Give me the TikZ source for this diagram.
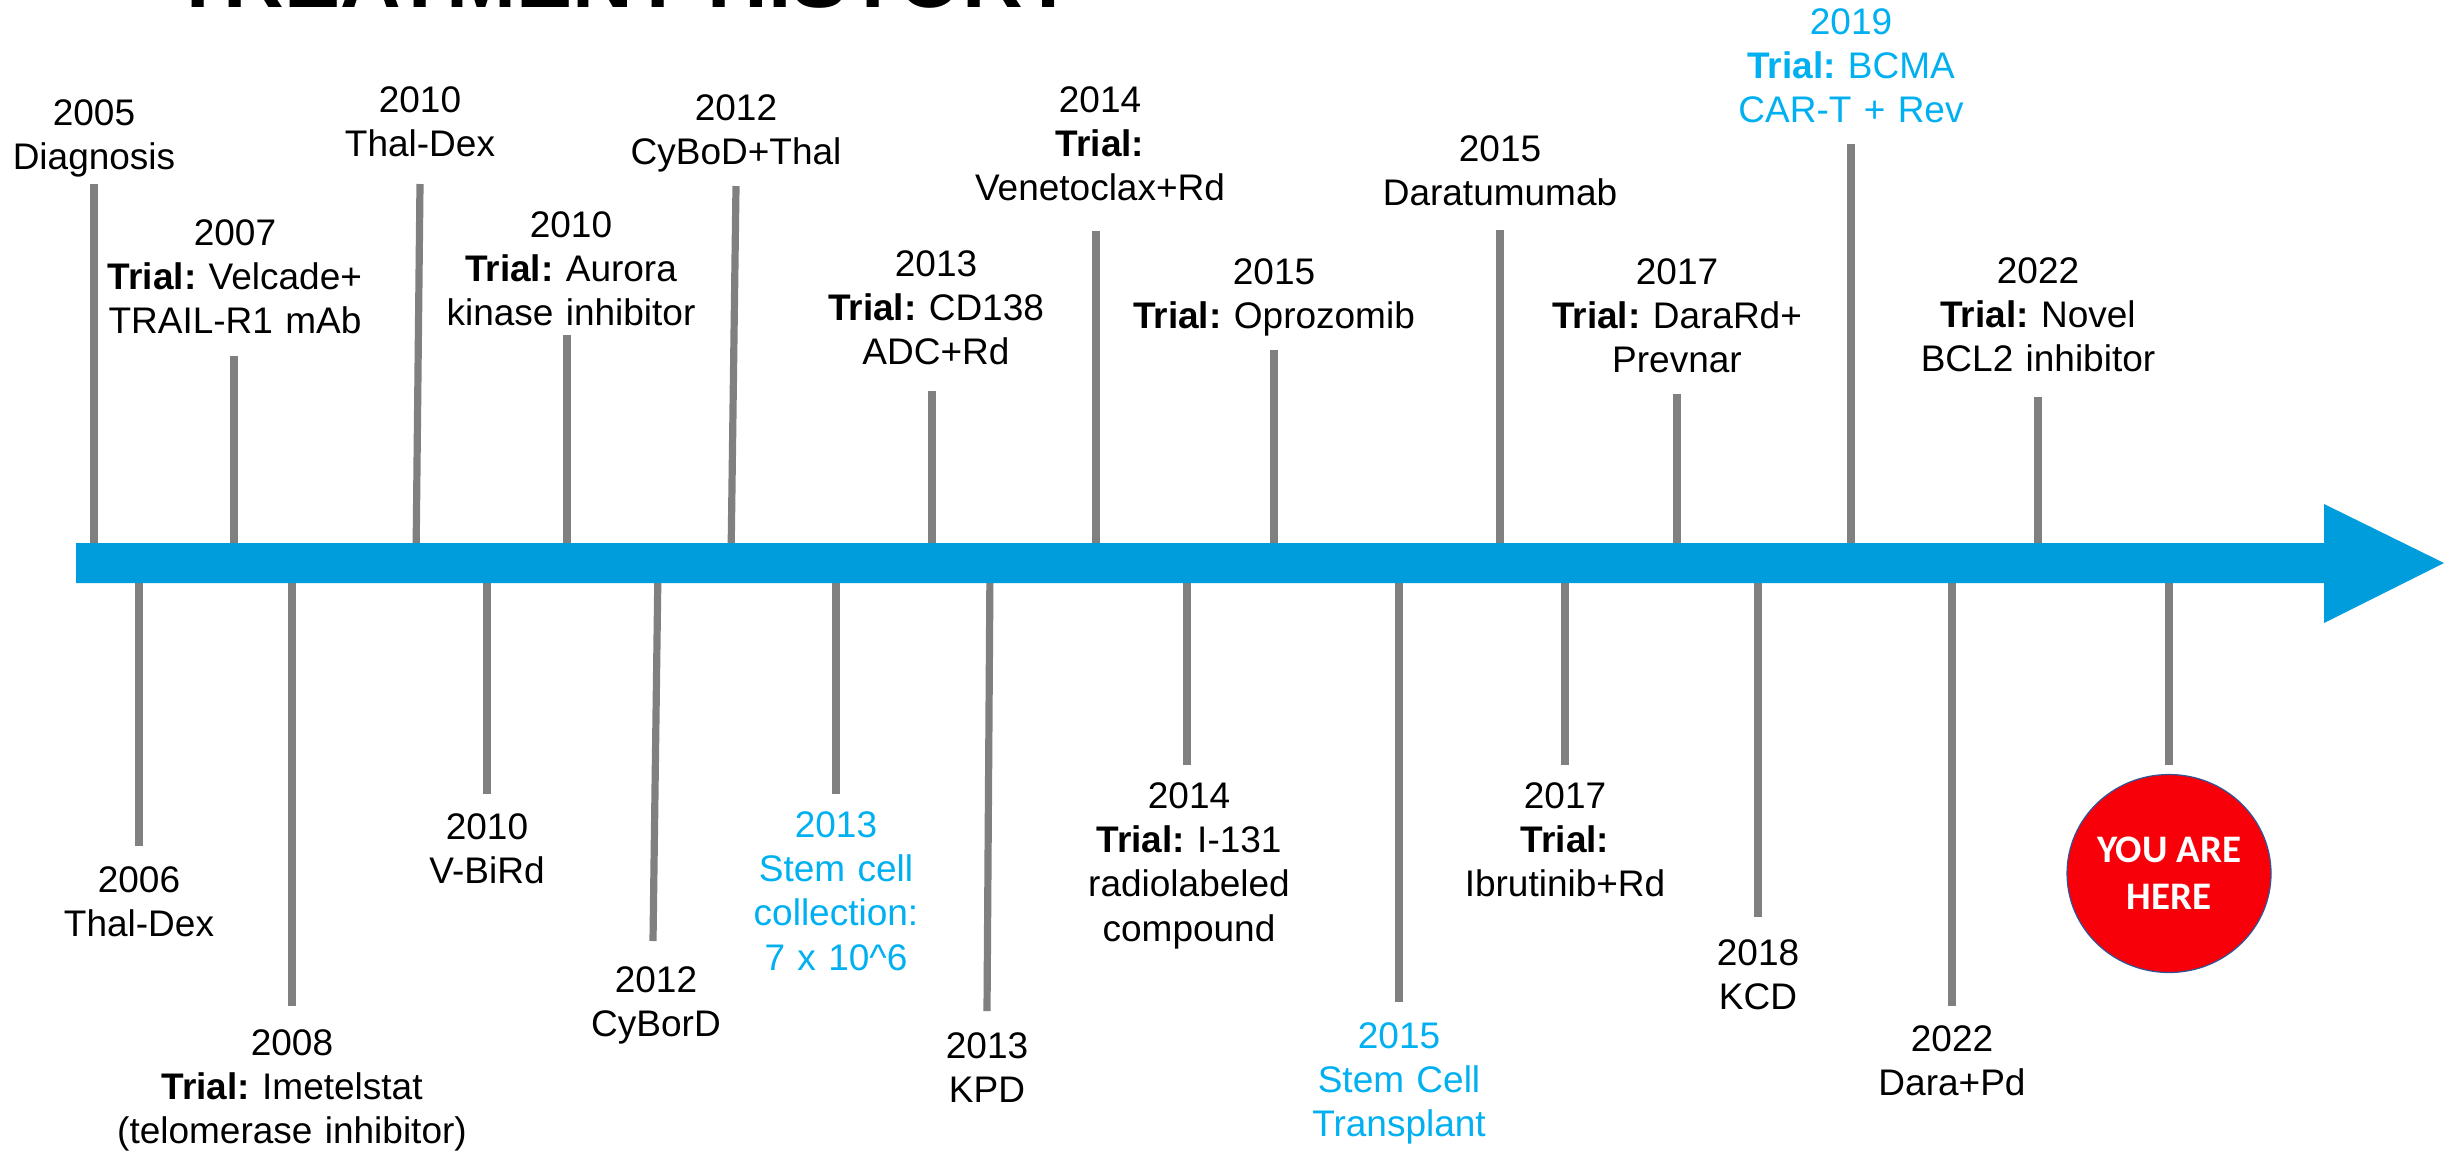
\documentclass[tikz,border=0pt]{standalone}
\usepackage{fontspec}
\setmainfont{Liberation Sans}
\newfontfamily\calibfont{Carlito}
\usetikzlibrary{shapes.geometric}
\frenchspacing
\definecolor{bandblue}{RGB}{0,157,221}
\definecolor{stemgray}{RGB}{128,128,128}
\definecolor{hiblue}{RGB}{0,176,240}
\definecolor{herered}{RGB}{248,0,10}
\definecolor{rimblue}{RGB}{47,85,151}
\tikzset{
  stem/.style={draw=stemgray, line width=3.6pt},
  lbl/.style={anchor=base, inner sep=0pt, text width=220pt, align=center,
              font=\frenchspacing\fontsize{18.5}{22.2}\selectfont, text=black},
  hilbl/.style={lbl, text=hiblue},
  band/.style={fill=bandblue, draw=none},
  herebadge/.style={ellipse, fill=herered, draw=rimblue, line width=0.6pt,
              minimum width=102pt, minimum height=99pt, inner sep=0pt,
              text=white, align=center,
              font=\calibfont\bfseries\fontsize{19.5}{23.5}\selectfont},
  titlelbl/.style={anchor=base west, inner sep=0pt,
              font=\bfseries\fontsize{42}{50}\selectfont}
}
\begin{document}
\begin{tikzpicture}[x=0.5pt,y=-0.5pt]
\useasboundingbox (0,0) rectangle (2455,1153);
\fill[white] (0,0) rectangle (2455,1153);

% title (cut off by the top edge, as in the original)
\node[titlelbl] (title) at (172,7) {TREATMENT HISTORY};

% ---------- stems above the band ----------
\foreach \n/\xb/\xt/\yt in {u1/94/94/184, u2/234/234/356, u3/416/420/184, u4/567/567/335,
  u5/731/736/186, u6/932/932/391, u7/1096/1096/231, u8/1274/1274/350,
  u9/1500/1500/230, u10/1677/1677/394, u11/1851/1851/144, u12/2038/2038/397}{
  \coordinate (\n a) at (\xb,560);
  \coordinate (\n b) at (\xt,\yt);
  \draw[stem] (\n a) -- (\n b);
}
% ---------- stems below the band ----------
\foreach \n/\xt/\xb/\yb in {d1/139/139/846, d2/292/292/1006, d3/487/487/794, d4/658/653/941,
  d5/836/836/794, d6/990/987/1011, d7/1187/1187/765, d8/1399/1399/1002,
  d9/1565/1565/765, d10/1758/1758/917, d11/1952/1952/1006, d12/2169/2169/765}{
  \coordinate (\n a) at (\xt,566);
  \coordinate (\n b) at (\xb,\yb);
  \draw[stem] (\n a) -- (\n b);
}

% ---------- the timeline arrow ----------
\coordinate (bandL1) at (76,543);
\coordinate (bandR1) at (2324,543);
\coordinate (headT) at (2324,504);
\coordinate (tip) at (2444,563);
\coordinate (headB) at (2324,623);
\coordinate (bandR2) at (2324,583);
\coordinate (bandL2) at (76,583);
\fill[band] (bandL1) -- (bandR1) -- (headT) -- (tip) -- (headB) -- (bandR2) -- (bandL2) -- cycle;

% ---------- labels above ----------
\node[lbl] (t2005) at (94,125) {2005\\Diagnosis};
\node[lbl] (t2007) at (235,245) {2007\\\textbf{Trial:} Velcade+\\TRAIL-R1 mAb};
\node[lbl] (t2010a) at (420,112) {2010\\Thal-Dex};
\node[lbl] (t2010b) at (571,237) {2010\\\textbf{Trial:} Aurora\\kinase inhibitor};
\node[lbl] (t2012a) at (736,120) {2012\\CyBoD+Thal};
\node[lbl] (t2013a) at (936,276) {2013\\\textbf{Trial:} CD138\\ADC+Rd};
\node[lbl] (t2014a) at (1100,112) {2014\\\textbf{Trial:}\\Venetoclax+Rd};
\node[lbl] (t2015a) at (1274,284) {2015\\\textbf{Trial:} Oprozomib};
\node[lbl] (t2015b) at (1500,161) {2015\\Daratumumab};
\node[lbl] (t2017a) at (1677,284) {2017\\\textbf{Trial:} DaraRd+\\Prevnar};
\node[hilbl] (t2019) at (1851,34) {2019\\\textbf{Trial:} BCMA\\CAR-T + Rev};
\node[lbl] (t2022a) at (2038,283) {2022\\\textbf{Trial:} Novel\\BCL2 inhibitor};

% ---------- labels below ----------
\node[lbl] (b2006) at (139,892) {2006\\Thal-Dex};
\node[lbl] (b2008) at (292,1055) {2008\\\textbf{Trial:} Imetelstat\\(telomerase inhibitor)};
\node[lbl] (b2010) at (487,839) {2010\\V-BiRd};
\node[lbl] (b2012) at (656,992) {2012\\CyBorD};
\node[hilbl] (b2013a) at (836,837) {2013\\Stem cell\\collection:\\7 x 10\textasciicircum 6};
\node[lbl] (b2013b) at (987,1058) {2013\\KPD};
\node[lbl] (b2014) at (1189,808) {2014\\\textbf{Trial:} I-131\\radiolabeled\\compound};
\node[hilbl] (b2015) at (1399,1048) {2015\\Stem Cell\\Transplant};
\node[lbl] (b2017) at (1565,808) {2017\\\textbf{Trial:}\\Ibrutinib+Rd};
\node[lbl] (b2018) at (1758,965) {2018\\KCD};
\node[lbl] (b2022) at (1952,1051) {2022\\Dara+Pd};

% ---------- you are here ----------
\node[herebadge] (here) at (2169,873.5) {YOU ARE\\HERE};
\end{tikzpicture}
\end{document}
